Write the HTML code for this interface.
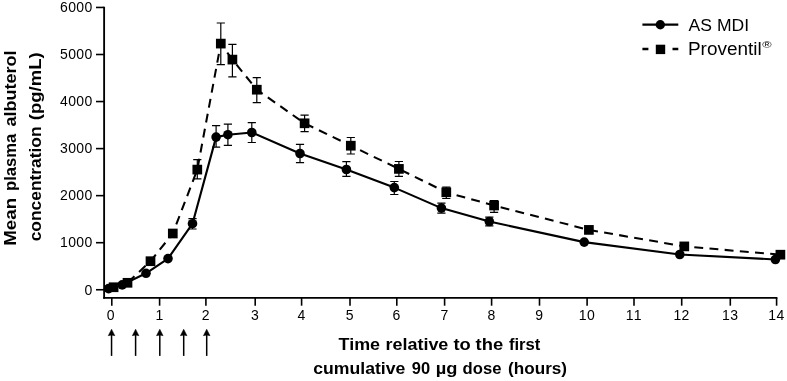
<!DOCTYPE html>
<html lang="en"><head><meta charset="utf-8"><title>Mean plasma albuterol concentration</title>
<style>html,body{margin:0;padding:0;background:#fff;}body{width:787px;height:381px;overflow:hidden;}svg{display:block;}text{font-family:"Liberation Sans",Arial,sans-serif;fill:#000;}.b{font-weight:bold;}</style></head><body>
<svg width="787" height="381" viewBox="0 0 787 381">
<rect width="787" height="381" fill="#fff"/>
<g stroke="#000" stroke-width="1.85" fill="none" stroke-linecap="butt">
<path d="M104.12 6.65V298.75"/>
<path d="M103.27 297.9H777.40"/>
</g>
<g stroke="#000" stroke-width="1.6" fill="none">
<path d="M96 289.75H104.12"/>
<path d="M96 242.70H104.12"/>
<path d="M96 195.65H104.12"/>
<path d="M96 148.60H104.12"/>
<path d="M96 101.55H104.12"/>
<path d="M96 54.50H104.12"/>
<path d="M96 7.45H104.12"/>
<path d="M111.80 297.9V305.7"/>
<path d="M159.60 297.9V305.7"/>
<path d="M205.90 297.9V305.7"/>
<path d="M255.20 297.9V305.7"/>
<path d="M301.60 297.9V305.7"/>
<path d="M350.00 297.9V305.7"/>
<path d="M396.80 297.9V305.7"/>
<path d="M444.60 297.9V305.7"/>
<path d="M491.60 297.9V305.7"/>
<path d="M539.50 297.9V305.7"/>
<path d="M587.10 297.9V305.7"/>
<path d="M634.00 297.9V305.7"/>
<path d="M681.70 297.9V305.7"/>
<path d="M730.30 297.9V305.7"/>
<path d="M776.60 297.9V305.7"/>
</g>
<g font-size="14">
<text x="84.46" y="294.50">0</text>
<text x="60.10 68.22 76.34 84.46" y="247.45">1000</text>
<text x="60.10 68.22 76.34 84.46" y="200.40">2000</text>
<text x="60.10 68.22 76.34 84.46" y="153.35">3000</text>
<text x="60.10 68.22 76.34 84.46" y="106.30">4000</text>
<text x="60.10 68.22 76.34 84.46" y="59.25">5000</text>
<text x="60.10 68.22 76.34 84.46" y="12.20">6000</text>
<text x="106.71" y="319.70">0</text>
<text x="155.41" y="319.70">1</text>
<text x="201.71" y="319.70">2</text>
<text x="251.01" y="319.70">3</text>
<text x="297.41" y="319.70">4</text>
<text x="345.81" y="319.70">5</text>
<text x="392.61" y="319.70">6</text>
<text x="440.41" y="319.70">7</text>
<text x="487.41" y="319.70">8</text>
<text x="535.31" y="319.70">9</text>
<text x="578.85 586.97" y="319.70">10</text>
<text x="625.75 633.87" y="319.70">11</text>
<text x="673.45 681.57" y="319.70">12</text>
<text x="722.05 730.17" y="319.70">13</text>
<text x="768.35 776.47" y="319.70">14</text>
</g>
<g stroke="#000" stroke-width="1.2" fill="none">
<path d="M192.5 218.6V229.0M188.4 218.6h8.2M188.4 229.0h8.2"/>
<path d="M216.1 125.7V147.1M212.0 125.7h8.2M212.0 147.1h8.2"/>
<path d="M227.9 124.2V145.3M223.8 124.2h8.2M223.8 145.3h8.2"/>
<path d="M251.8 122.6V142.5M247.7 122.6h8.2M247.7 142.5h8.2"/>
<path d="M300.0 144.3V162.7M295.9 144.3h8.2M295.9 162.7h8.2"/>
<path d="M346.4 161.7V176.3M342.3 161.7h8.2M342.3 176.3h8.2"/>
<path d="M394.3 181.5V194.5M390.2 181.5h8.2M390.2 194.5h8.2"/>
<path d="M441.4 203.1V213.2M437.3 203.1h8.2M437.3 213.2h8.2"/>
<path d="M489.3 217.2V225.8M485.2 217.2h8.2M485.2 225.8h8.2"/>
<path d="M197.3 159.7V178.8M193.2 159.7h8.2M193.2 178.8h8.2"/>
<path d="M220.8 23.0V64.6M216.7 23.0h8.2M216.7 64.6h8.2"/>
<path d="M232.4 44.4V76.8M228.3 44.4h8.2M228.3 76.8h8.2"/>
<path d="M256.8 77.7V102.7M252.7 77.7h8.2M252.7 102.7h8.2"/>
<path d="M304.6 115.2V131.7M300.5 115.2h8.2M300.5 131.7h8.2"/>
<path d="M350.8 137.5V154.0M346.7 137.5h8.2M346.7 154.0h8.2"/>
<path d="M398.9 161.5V176.3M394.8 161.5h8.2M394.8 176.3h8.2"/>
<path d="M446.3 187.2V198.5M442.2 187.2h8.2M442.2 198.5h8.2"/>
<path d="M494.1 200.5V212.3M490.0 200.5h8.2M490.0 212.3h8.2"/>
</g>
<polyline points="113.6,287.2 127.5,282.8 150.5,261.2 172.8,233.5 197.3,169.6 220.8,43.6 232.4,59.6 256.8,89.7 304.6,123.3 350.8,145.7 398.9,168.9 446.3,192.3 494.1,205.5 588.9,229.9 684.3,246.4 780.4,254.7" fill="none" stroke="#000" stroke-width="2.05" stroke-dasharray="8.9 6.33" stroke-dashoffset="0" stroke-linejoin="round"/>
<polyline points="108.6,288.6 122.2,284.9 146.0,273.3 168.0,258.6 192.5,223.7 216.1,137.1 227.9,134.7 251.8,132.5 300.0,153.5 346.4,169.5 394.3,187.6 441.4,208.1 489.3,221.5 584.2,242.1 679.8,254.5 775.4,259.5" fill="none" stroke="#000" stroke-width="2.12" stroke-linejoin="round"/>
<g fill="#000">
<rect x="108.75" y="282.40" width="9.7" height="9.7"/>
<rect x="122.65" y="277.95" width="9.7" height="9.7"/>
<rect x="145.65" y="256.35" width="9.7" height="9.7"/>
<rect x="167.95" y="228.65" width="9.7" height="9.7"/>
<rect x="192.45" y="164.75" width="9.7" height="9.7"/>
<rect x="215.95" y="38.75" width="9.7" height="9.7"/>
<rect x="227.55" y="54.75" width="9.7" height="9.7"/>
<rect x="251.95" y="84.85" width="9.7" height="9.7"/>
<rect x="299.75" y="118.45" width="9.7" height="9.7"/>
<rect x="345.95" y="140.85" width="9.7" height="9.7"/>
<rect x="394.05" y="164.05" width="9.7" height="9.7"/>
<rect x="441.45" y="187.45" width="9.7" height="9.7"/>
<rect x="489.25" y="200.65" width="9.7" height="9.7"/>
<rect x="584.05" y="225.05" width="9.7" height="9.7"/>
<rect x="679.45" y="241.55" width="9.7" height="9.7"/>
<rect x="775.55" y="249.85" width="9.7" height="9.7"/>
<circle cx="108.6" cy="288.6" r="4.8"/>
<circle cx="122.2" cy="284.9" r="4.8"/>
<circle cx="146.0" cy="273.3" r="4.8"/>
<circle cx="168.0" cy="258.6" r="4.8"/>
<circle cx="192.5" cy="223.7" r="4.8"/>
<circle cx="216.1" cy="137.1" r="4.8"/>
<circle cx="227.9" cy="134.7" r="4.8"/>
<circle cx="251.8" cy="132.5" r="4.8"/>
<circle cx="300.0" cy="153.5" r="4.8"/>
<circle cx="346.4" cy="169.5" r="4.8"/>
<circle cx="394.3" cy="187.6" r="4.8"/>
<circle cx="441.4" cy="208.1" r="4.8"/>
<circle cx="489.3" cy="221.5" r="4.8"/>
<circle cx="584.2" cy="242.1" r="4.8"/>
<circle cx="679.8" cy="254.5" r="4.8"/>
<circle cx="775.4" cy="259.5" r="4.8"/>
</g>
<g stroke="#000" stroke-width="2.3" fill="none">
<path d="M642.4 24.7H678.3"/>
<path d="M642.4 49.0H648.4M672.5 49.0H678.3"/>
</g>
<circle cx="660.3" cy="24.7" r="4.7" fill="#000"/>
<rect x="655.8" y="44.7" width="9.4" height="9.4" fill="#000"/>
<text x="688.6" y="30.9" font-size="17.2" textLength="60.5" lengthAdjust="spacingAndGlyphs">AS MDI</text>
<text font-size="17.6"><tspan x="688.0" y="54.5" textLength="73.6" lengthAdjust="spacingAndGlyphs">Proventil</tspan><tspan x="762.2" y="48.4" font-size="9.2" textLength="9.4" lengthAdjust="spacingAndGlyphs">®</tspan></text>
<g class="b" font-size="17.2" font-weight="bold">
<text y="350.0"><tspan x="338.60" textLength="41.48" lengthAdjust="spacingAndGlyphs">Time</tspan> <tspan x="385.45" textLength="62.93" lengthAdjust="spacingAndGlyphs">relative</tspan> <tspan x="453.40" textLength="17.33" lengthAdjust="spacingAndGlyphs">to</tspan> <tspan x="475.60" textLength="27.60" lengthAdjust="spacingAndGlyphs">the</tspan> <tspan x="508.90" textLength="31.43" lengthAdjust="spacingAndGlyphs">first</tspan></text>
<text y="374.0"><tspan x="313.30" textLength="92.07" lengthAdjust="spacingAndGlyphs">cumulative</tspan> <tspan x="411.80" textLength="18.34" lengthAdjust="spacingAndGlyphs">90</tspan> <tspan x="435.74" textLength="21.69" lengthAdjust="spacingAndGlyphs">µg</tspan> <tspan x="462.60" textLength="38.84" lengthAdjust="spacingAndGlyphs">dose</tspan> <tspan x="508.10" textLength="58.92" lengthAdjust="spacingAndGlyphs">(hours)</tspan></text>
</g>
<g class="b" font-size="17.2" font-weight="bold">
<text transform="translate(16.4 0) rotate(-90)" y="0"><tspan x="-245.69" textLength="47.73" lengthAdjust="spacingAndGlyphs">Mean</tspan> <tspan x="-190.97" textLength="57.34" lengthAdjust="spacingAndGlyphs">plasma</tspan> <tspan x="-126.50" textLength="76.11" lengthAdjust="spacingAndGlyphs">albuterol</tspan></text>
<text transform="translate(41.3 0) rotate(-90)" y="0"><tspan x="-241.30" textLength="114.90" lengthAdjust="spacingAndGlyphs">concentration</tspan> <tspan x="-120.20" textLength="67.78" lengthAdjust="spacingAndGlyphs">(pg/mL)</tspan></text>
</g>
<g fill="#000">
<rect x="110.80" y="334" width="1.5" height="21.9"/>
<path d="M111.55 329.2L114.85 335.7L111.55 335.1L108.25 335.7Z" stroke="#000" stroke-width="0.5" stroke-linejoin="round"/>
<rect x="134.85" y="334" width="1.5" height="21.9"/>
<path d="M135.6 329.2L138.90 335.7L135.6 335.1L132.30 335.7Z" stroke="#000" stroke-width="0.5" stroke-linejoin="round"/>
<rect x="159.05" y="334" width="1.5" height="21.9"/>
<path d="M159.8 329.2L163.10 335.7L159.8 335.1L156.50 335.7Z" stroke="#000" stroke-width="0.5" stroke-linejoin="round"/>
<rect x="182.95" y="334" width="1.5" height="21.9"/>
<path d="M183.7 329.2L187.00 335.7L183.7 335.1L180.40 335.7Z" stroke="#000" stroke-width="0.5" stroke-linejoin="round"/>
<rect x="205.95" y="334" width="1.5" height="21.9"/>
<path d="M206.7 329.2L210.00 335.7L206.7 335.1L203.40 335.7Z" stroke="#000" stroke-width="0.5" stroke-linejoin="round"/>
</g>
</svg></body></html>
